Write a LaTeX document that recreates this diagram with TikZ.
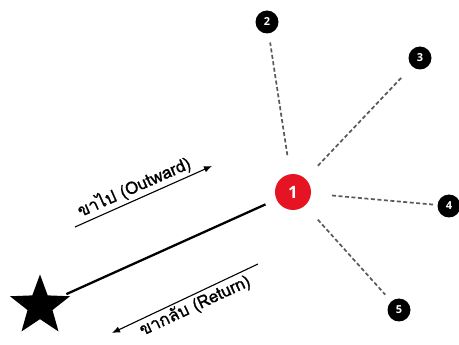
\documentclass[tikz,border=0pt]{standalone}
\usepackage{fontspec}
\setmainfont{Open Sans}
\newfontfamily\thaifont[Script=Thai, FakeBold=1.2]{Loma}
\usetikzlibrary{arrows.meta,shapes.geometric}
\begin{document}
\begin{tikzpicture}[x=1pt,y=-1pt,
  num/.style={circle, fill=black, text=white, inner sep=0pt, minimum size=23pt,
    font=\bfseries\fontsize{11}{11}\selectfont},
  hub/.style={circle, fill={rgb,255:red,230;green,20;blue,35}, text=white, inner sep=0pt,
    minimum size=36pt, font=\bfseries\fontsize{17}{17}\selectfont},
  link/.style={dash pattern=on 4pt off 2.5pt, line width=1.7pt, black!65},
  leg/.style={line width=2.3pt, black},
  dir/.style={line width=1.1pt, -{Latex[length=8pt,width=6.5pt]}},
  lbl/.style={font=\thaifont\fontsize{17}{17}\selectfont, inner sep=1pt}]
\useasboundingbox (0,0) rectangle (459,345);
\node[hub] (n1) at (293,192) {1};
\node[num] (n2) at (267,22) {2};
\node[num] (n3) at (420,58) {3};
\node[num] (n4) at (449,206) {4};
\node[num] (n5) at (399,310) {5};
\node[star, star points=5, star point ratio=2.4, fill=black, minimum size=63pt, inner sep=0pt] (st) at (40,306) {};
\draw[link, shorten <=19pt, shorten >=9pt] (n1) -- (n2);
\draw[link, shorten <=18pt, shorten >=14pt] (n1) -- (n3);
\draw[link, shorten <=21pt, shorten >=4pt] (n1) -- (n4);
\draw[link, shorten <=19pt, shorten >=9pt] (n1) -- (n5);
\draw[leg, shorten <=4pt, shorten >=12pt] (st) -- (n1);
\coordinate (oa) at (75,227);
\coordinate (ob) at (212,166);
\coordinate (ra) at (258,264);
\coordinate (rb) at (112,333);
\draw[dir] (oa) -- (ob);
\draw[dir] (ra) -- (rb);
\node[lbl, rotate=24] (ol) at (134,187) {ขาไป (Outward)};
\node[lbl, rotate=25] (rl) at (195,306) {ขากลับ (Return)};
\end{tikzpicture}
\end{document}
